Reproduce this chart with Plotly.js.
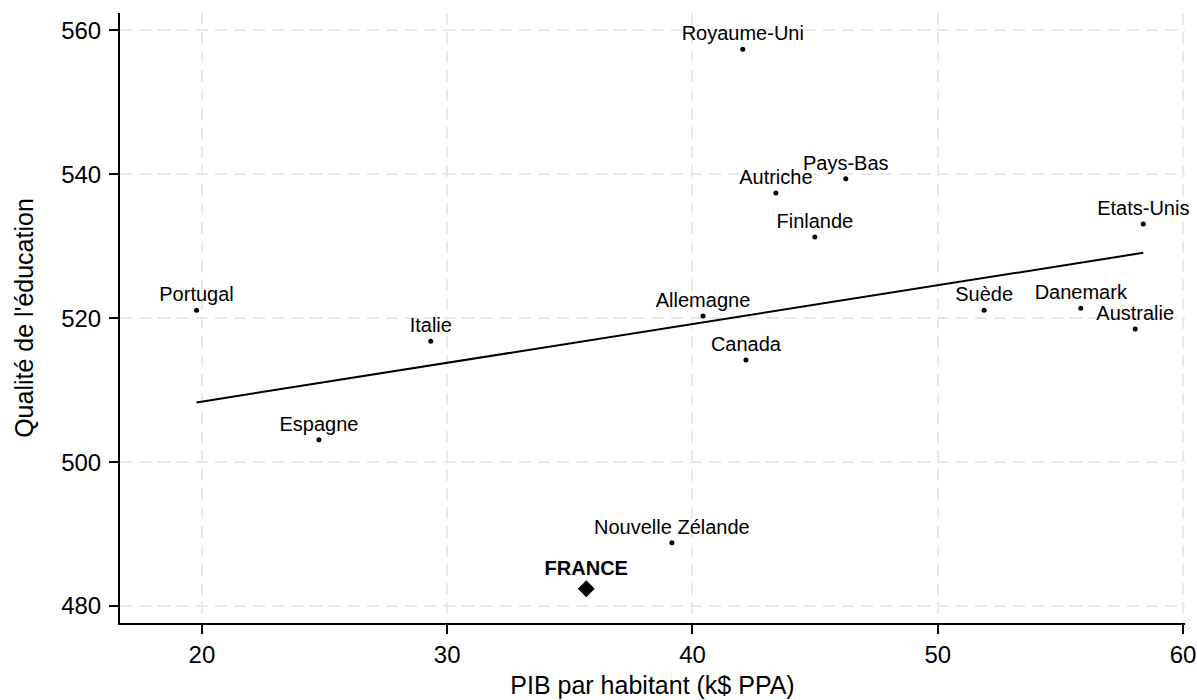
<!DOCTYPE html>
<html>
<head>
<meta charset="utf-8">
<script src="https://cdn.plot.ly/plotly-3.0.1.min.js"></script>
<style>html,body{margin:0;padding:0;background:#fff;}#chart{width:1197px;height:700px;}</style>
</head>
<body>
<div id="chart"></div>
<script>
const countries = ["Royaume-Uni","Pays-Bas","Autriche","Finlande","Etats-Unis","Portugal","Italie","Allemagne","Canada","Suède","Danemark","Australie","Espagne","Nouvelle Zélande"];
const gdp = [42.05, 46.25, 43.40, 44.99, 58.38, 19.78, 29.33, 40.43, 42.18, 51.89, 55.83, 58.05, 24.77, 39.16];
const education = [557.4, 539.4, 537.4, 531.3, 533.1, 521.1, 516.8, 520.3, 514.2, 521.1, 521.4, 518.5, 503.1, 488.8];
const franceLabel = ["FRANCE"];
const franceGdp = [35.67];
const franceEdu = [482.4];
const trendX = [19.78, 58.38];
const trendY = [508.3, 529.1];
const xTicks = [20, 30, 40, 50, 60];
const yTicks = [480, 500, 520, 540, 560];

const font = "Liberation Sans, Arial, Helvetica, sans-serif";

const traces = [
  {x: trendX, y: trendY, mode: "lines", type: "scatter", line: {color: "#000", width: 2}, hoverinfo: "skip", cliponaxis: false},
  {x: gdp, y: education, text: countries, mode: "markers+text", type: "scatter", textposition: "top center",
   marker: {color: "#000", size: 5}, textfont: {family: font, size: 20, color: "#000"}, cliponaxis: false},
  {x: franceGdp, y: franceEdu, text: franceLabel.map(s => "<b>" + s + "</b>"), mode: "markers+text", type: "scatter", textposition: "top center",
   marker: {color: "#000", size: 13, symbol: "diamond"}, textfont: {family: font, size: 20, color: "#000"}, cliponaxis: false}
];

const layout = {
  width: 1197, height: 700,
  margin: {l: 120, r: 12, t: 13, b: 77},
  paper_bgcolor: "#fff", plot_bgcolor: "#fff",
  showlegend: false,
  font: {family: font, color: "#000"},
  xaxis: {
    range: [16.66, 60.08], tickvals: xTicks, ticktext: xTicks.map(String),
    showline: true, linecolor: "#000", linewidth: 2,
    ticks: "outside", ticklen: 9, tickwidth: 2, tickcolor: "#000",
    tickfont: {family: font, size: 24, color: "#000"},
    showgrid: true, gridcolor: "#e9e9e9", gridwidth: 2, griddash: "12px,7px",
    zeroline: false,
    title: {text: "PIB par habitant (k$ PPA)", font: {family: font, size: 25, color: "#000"}, standoff: 10}
  },
  yaxis: {
    range: [477.64, 562.43], tickvals: yTicks, ticktext: yTicks.map(String),
    showline: true, linecolor: "#000", linewidth: 2,
    ticks: "outside", ticklen: 9, tickwidth: 2, tickcolor: "#000",
    tickfont: {family: font, size: 24, color: "#000"},
    ticklabelstandoff: 3,
    showgrid: true, gridcolor: "#e9e9e9", gridwidth: 2, griddash: "12px,7px",
    zeroline: false,
    title: {text: "Qualité de l'éducation", font: {family: font, size: 25, color: "#000"}, standoff: 20}
  }
};

Plotly.newPlot("chart", traces, layout, {displayModeBar: false, staticPlot: true});
</script>
</body>
</html>
